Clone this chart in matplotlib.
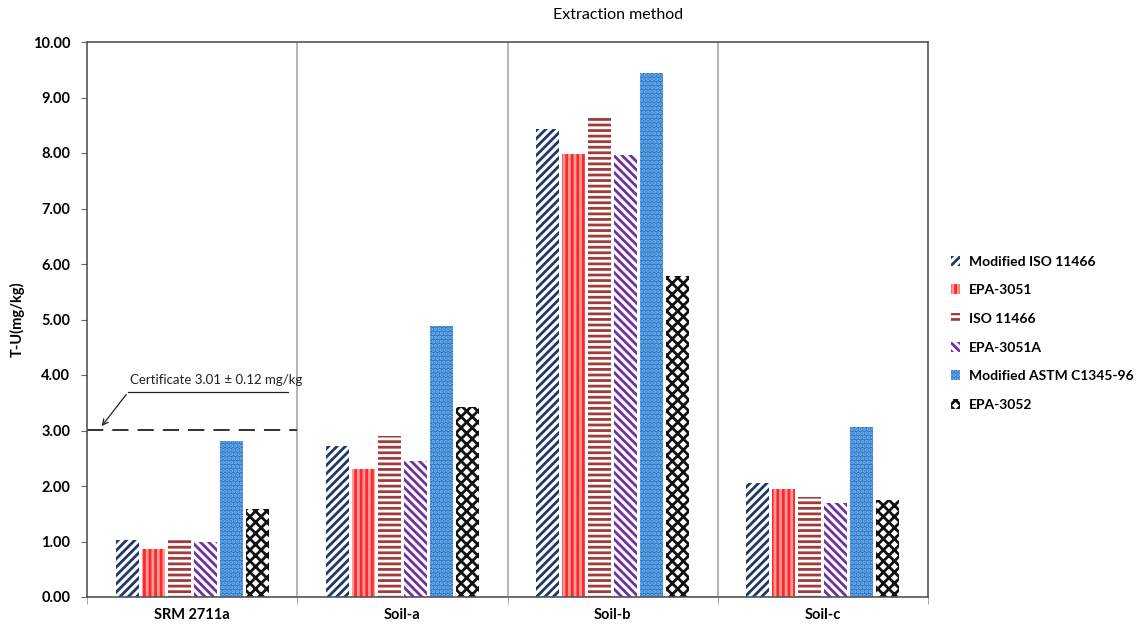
import numpy as np
import matplotlib
matplotlib.use('Agg')
import matplotlib.pyplot as plt

plt.rcParams['font.family'] = ['Lato', 'DejaVu Sans']
plt.rcParams['hatch.linewidth'] = 2.0

# ---------------- data ----------------
samples = ['SRM 2711a', 'Soil-a', 'Soil-b', 'Soil-c']
methods = ['Modified ISO 11466', 'EPA-3051', 'ISO 11466', 'EPA-3051A',
           'Modified ASTM C1345-96', 'EPA-3052']
mod_iso = [1.03, 2.72, 8.43, 2.06]
epa3051 = [0.86, 2.30, 7.99, 1.94]
iso11466 = [1.05, 2.90, 8.63, 1.80]
epa3051a = [1.00, 2.45, 7.97, 1.70]
mod_astm = [2.81, 4.88, 9.45, 3.06]
epa3052 = [1.59, 3.42, 5.79, 1.75]
certificate = 3.01

series = [mod_iso, epa3051, iso11466, epa3051a, mod_astm, epa3052]
# (facecolor, hatch colour, hatch)
styles = [('white', '#1f3864', '////'),
          ('#ff2828', '#ff9a9a', '|||'),
          ('white', '#a33a3a', '---'),
          ('white', '#7030a0', '\\\\\\\\'),
          ('#2474c8', '#7db4ea', '....'),
          ('white', '#111111', 'xxx')]

fig = plt.figure(figsize=(11.41, 6.26), dpi=100)
ax = fig.add_axes([87/1141, 1-597/626, (928-87)/1141, (597-42)/626])

x = np.arange(len(samples))
pitch = 0.1237
w = 0.109
for i, (vals, (fc, hc, h)) in enumerate(zip(series, styles)):
    ax.bar(x + (i - 2.5)*pitch, vals, w, facecolor=fc, edgecolor=hc,
           hatch=h, linewidth=0, label=methods[i])

# group separators
for s in [0.5, 1.5, 2.5]:
    ax.axvline(s, color='#b0b0b0', lw=1.3, zorder=0)

# certificate line
ax.plot([-0.5, 0.5], [certificate, certificate], color='#222222',
        lw=1.3, dashes=(9, 5))
ax.plot([0.456, -0.305], [3.69, 3.69], color='#222222', lw=0.9)
ax.annotate('', xy=(-0.438, 3.04), xytext=(-0.305, 3.69),
            arrowprops=dict(arrowstyle='->', color='#222222', lw=0.9))
ax.text(-0.295, 3.91, 'Certificate 3.01 \u00b1 0.12 mg/kg', fontsize=9.5,
        va='center', ha='left', color='#222222')

ax.set_xlim(-0.5, 3.5)
ax.set_ylim(0, 10)
ax.set_yticks(np.arange(0, 10.01, 1))
ax.set_yticklabels(['%.2f' % v for v in np.arange(0, 10.01, 1)],
                   fontsize=10.5, fontweight='bold')
ax.set_xticks(x)
ax.set_xticklabels(samples, fontsize=10.5, fontweight='bold')
ax.set_xticks(np.arange(-0.5, 3.6, 0.5), minor=True)
ax.tick_params(axis='x', which='major', length=0, pad=8)
ax.tick_params(axis='x', which='minor', length=5, color='#999999')
ax.tick_params(axis='y', length=4, color='#666666', pad=8)
for sp in ax.spines.values():
    sp.set_color('#555555')
    sp.set_linewidth(1.2)
ax.set_ylabel('T-U(mg/kg)', fontsize=10.5, fontweight='bold', labelpad=6)

fig.text(618/1141, 1-15/626, 'Extraction method', fontsize=11.5,
         ha='center', va='center')

fig.legend(loc='upper left', bbox_to_anchor=(945/1141, 1-250/626),
           frameon=False, prop={'weight': 'bold', 'size': 10},
           handlelength=0.7, handleheight=0.7, handletextpad=0.6,
           labelspacing=1.2, borderaxespad=0)

fig.savefig('out.png', dpi=100)
